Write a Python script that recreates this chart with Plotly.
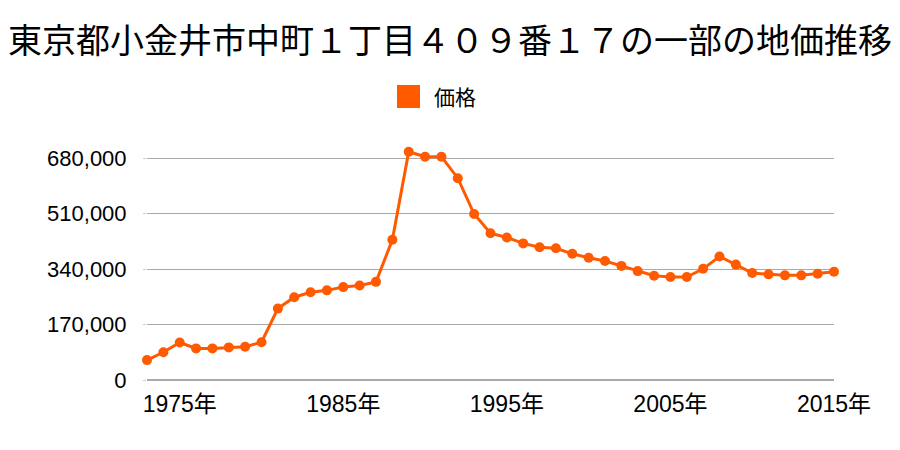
import plotly.graph_objects as go

years = list(range(1973, 2016))
prices = [61000, 85000, 115000, 97000, 97000, 100000, 102000, 116000, 219000, 254000,
          269000, 275000, 285000, 290000, 301000, 430000, 700000, 685000, 685000, 619000,
          509000, 450000, 437000, 419000, 407000, 404000, 387000, 375000, 365000, 350000,
          334000, 320000, 316000, 316000, 341000, 379000, 354000, 328000, 324000, 321000,
          321000, 326000, 332000]
y_ticks = [0, 170000, 340000, 510000, 680000]
y_tick_text = ["0", "170,000", "340,000", "510,000", "680,000"]
x_ticks = [1975, 1985, 1995, 2005, 2015]
x_tick_text = ["1975年", "1985年", "1995年", "2005年", "2015年"]
title = "東京都小金井市中町１丁目４０９番１７の一部の地価推移"
series_name = "価格"

color = "#ff5a00"
font_fam = "Liberation Sans, Noto Sans CJK JP, sans-serif"

L, R, T, B = 147, 66, 135, 70
W, H = 900, 450
pw, ph = W - L - R, H - T - B


def px_x(p):
    return (p - L) / pw


def px_y(p):
    return (H - B - p) / ph


fig = go.Figure()
fig.add_trace(go.Scatter(
    x=years, y=prices, mode="lines+markers", name=series_name,
    line=dict(color=color, width=3),
    marker=dict(color=color, size=10),
    showlegend=False, cliponaxis=False, hoverinfo="x+y"))

# legend (square swatch + label)
fig.add_shape(type="rect", xref="paper", yref="paper",
              x0=px_x(397), x1=px_x(420), y0=px_y(108), y1=px_y(85),
              fillcolor=color, line=dict(width=0))
fig.add_annotation(text=series_name, xref="paper", yref="paper",
                   x=px_x(432), y=px_y(96.5), xanchor="left", yanchor="middle",
                   showarrow=False,
                   font=dict(family="Noto Sans CJK JP", size=21, color="#000"))

fig.update_layout(
    width=W, height=H,
    margin=dict(l=L, r=R, t=T, b=B),
    paper_bgcolor="white", plot_bgcolor="white",
    font=dict(family=font_fam, size=22, color="#000"),
    showlegend=False,
    title=dict(text=title, x=0.5, xanchor="center", xref="container",
               y=1 - 41 / 450, yanchor="middle", yref="container",
               font=dict(family="Noto Sans CJK JP", size=34, color="#000")),
    xaxis=dict(range=[1973, 2015], tickvals=x_ticks, ticktext=x_tick_text,
               showgrid=False, zeroline=False, showline=False, ticks="",
               ticklabelstandoff=8, tickfont=dict(size=23)),
    yaxis=dict(range=[0, 751500], tickvals=y_ticks, ticktext=y_tick_text,
               showgrid=True, gridcolor="#aaaaaa", gridwidth=1,
               zeroline=True, zerolinecolor="#aaaaaa", zerolinewidth=1.5,
               showline=False, ticks="outside", ticklen=3,
               tickcolor="#cccccc", ticklabelstandoff=12),
)

fig.write_html("out.html")
